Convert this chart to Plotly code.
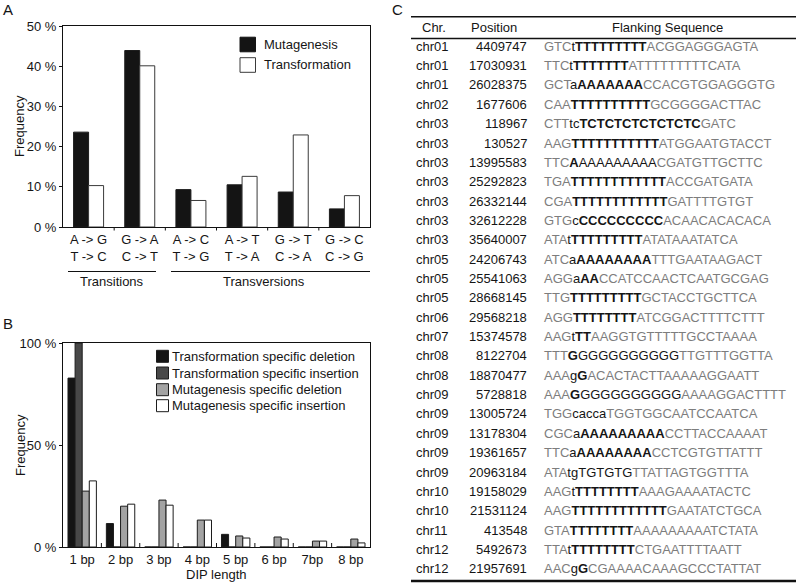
import re
import plotly.graph_objects as go

W, H = 796, 584
FONT = "Liberation Sans, Arial, Helvetica, sans-serif"
INK = "#151515"
GRAY = "#7d7d7d"

# ---------------- Panel A data ----------------
sub_labels = ["A -> G<br>T -> C", "G -> A<br>C -> T", "A -> C<br>T -> G",
              "A -> T<br>T -> A", "G -> T<br>C -> A", "G -> C<br>C -> G"]
mutagenesis = [23.6, 43.9, 9.3, 10.5, 8.7, 4.5]
transformation = [10.3, 40.1, 6.6, 12.6, 22.9, 7.8]
a_ticks = [0, 10, 20, 30, 40, 50]

# ---------------- Panel B data ----------------
dip_labels = ["1 bp", "2 bp", "3 bp", "4 bp", "5 bp", "6 bp", "7bp", "8 bp"]
trans_del = [82.8, 11.5, 0, 0, 6.2, 0, 0, 0]
trans_ins = [100, 0, 0, 0, 0, 0, 0, 0]
mut_del = [27.4, 20.0, 23.0, 13.2, 5.4, 4.9, 2.9, 3.9]
mut_ins = [32.4, 21.0, 20.5, 13.2, 4.4, 3.9, 2.9, 2.0]
b_ticks = [0, 50, 100]

# ---------------- Panel C data ----------------
chroms = ["chr01", "chr01", "chr01", "chr02", "chr03", "chr03", "chr03", "chr03",
          "chr03", "chr03", "chr03", "chr05", "chr05", "chr05", "chr06", "chr07",
          "chr08", "chr08", "chr09", "chr09", "chr09", "chr09", "chr09", "chr10",
          "chr10", "chr11", "chr12", "chr12"]
positions = ["4409747", "17030931", "26028375", "1677606", "118967", "130527",
             "13995583", "25292823", "26332144", "32612228", "35640007", "24206743",
             "25541063", "28668145", "29568218", "15374578", "8122704", "18870477",
             "5728818", "13005724", "13178304", "19361657", "20963184", "19158029",
             "21531124", "413548", "5492673", "21957691"]
# [..] = black regular, {..} = black bold, rest = grey flank
sequences = [
    "GTC[t]{TTTTTTTTT}ACGGAGGGAGTA",
    "TTC[t]{TTTTTTT}ATTTTTTTTTCATA",
    "GCT[a]{AAAAAAA}CCACGTGGAGGGTG",
    "CAA{TTTTTTTTTT}GCGGGGACTTAC",
    "CTT[tc]{TCTCTCTCTCTCTC}GATC",
    "AAG{TTTTTTTTTTT}ATGGAATGTACCT",
    "TTC{A}[AAAAAAAAA]CGATGTTGCTTC",
    "TGA{TTTTTTTTTTTT}ACCGATGATA",
    "CGA{TTTTTTTTTTTT}GATTTTGTGT",
    "GTG[c]{CCCCCCCCC}ACAACACACACA",
    "ATA[t]{TTTTTTTTT}ATATAAATATCA",
    "ATC[a]{AAAAAAAA}TTTGAATAAGACT",
    "AGG[a]{AA}CCATCCAACTCAATGCGAG",
    "TTG{TTTTTTTTT}GCTACCTGCTTCA",
    "AGG{TTTTTTTT}ATCGGACTTTTCTTT",
    "AAG[t]{TT}AAGGTGTTTTTGCCTAAAA",
    "TTT{G}[GGGGGGGGGG]TTGTTTGGTTA",
    "AAA[g]{G}ACACTACTTAAAAAGGAATT",
    "AAA{G}[GGGGGGGGGG]AAAAGGACTTTT",
    "TGG[cacca]TGGTGGCAATCCAATCA",
    "CGC[a]{AAAAAAAAA}CCTTACCAAAAT",
    "TTC[a]{AAAAAAAA}CCTCGTGTTATTT",
    "ATA[tgTGTGTG]TTATTAGTGGTTTA",
    "AAG[t]{TTTTTTTT}AAAGAAAATACTC",
    "AAG{TTTTTTTTTTTT}GAATATCTGCA",
    "GTA{TTTTTTTT}AAAAAAAAATCTATA",
    "TTA[t]{TTTTTTTT}CTGAATTTTAATT",
    "AAC[g]{G}CGAAAACAAAGCCCTATTAT",
]
table_headers = ["Chr.", "Position", "Flanking Sequence"]


def X(px):
    return px / W


def Y(py):
    return 1 - py / H


def markup(seq):
    out = []
    for reg, bold, plain in re.findall(r"\[([^\]]*)\]|\{([^}]*)\}|([^\[\{]+)", seq):
        if reg:
            out.append(f'<span style="color:{INK}">{reg}</span>')
        elif bold:
            out.append(f'<span style="color:{INK}"><b>{bold}</b></span>')
        else:
            out.append(plain)
    return "".join(out)


def note(text, px, py, xa="center", ya="middle", size=13, color=INK, angle=0):
    return dict(text=text, x=X(px), y=Y(py), xref="paper", yref="paper",
                showarrow=False, xanchor=xa, yanchor=ya, textangle=angle,
                borderpad=0, font=dict(family=FONT, size=size, color=color))


fig = go.Figure()

line = dict(color="#1c1c1c", width=1)
# Panel A bars
wA = 0.293
fig.add_bar(x=list(range(6)), y=mutagenesis, name="Mutagenesis", width=wA, offset=-wA,
            marker=dict(color="#141414", line=line), xaxis="x", yaxis="y", showlegend=False)
fig.add_bar(x=list(range(6)), y=transformation, name="Transformation", width=wA, offset=0,
            marker=dict(color="#ffffff", line=dict(color="#3a3a3a", width=1)),
            xaxis="x", yaxis="y", showlegend=False)

# Panel B bars
wB = 0.185
b_series = [("Transformation specific deletion", trans_del, "#141414"),
            ("Transformation specific insertion", trans_ins, "#484848"),
            ("Mutagenesis specific deletion", mut_del, "#a3a3a3"),
            ("Mutagenesis specific insertion", mut_ins, "#ffffff")]
for i, (nm, vals, col) in enumerate(b_series):
    fig.add_bar(x=list(range(8)), y=vals, name=nm, width=wB, offset=-2 * wB + i * wB,
                marker=dict(color=col, line=line), xaxis="x2", yaxis="y2", showlegend=False)

axis_common = dict(showline=True, mirror=True, linecolor="#111", linewidth=1,
                   showgrid=False, zeroline=False, automargin=False,
                   tickfont=dict(family=FONT, size=13, color=INK))

fig.update_layout(
    template="none",
    width=W, height=H, margin=dict(l=0, r=0, t=0, b=0, pad=0, autoexpand=False),
    paper_bgcolor="white", plot_bgcolor="white",
    barmode="overlay", showlegend=False,
    font=dict(family=FONT, size=13, color=INK),
    xaxis=dict(domain=[X(63), X(370)], range=[-0.5, 5.5], tickmode="array",
               tickvals=list(range(6)), ticktext=sub_labels, ticks="", anchor="y",
               **axis_common),
    yaxis=dict(domain=[Y(227), Y(26)], range=[0, 50], tickmode="array",
               tickvals=a_ticks, ticktext=[f"{v} %" for v in a_ticks], ticks="outside",
               ticklen=3, tickcolor="#111", anchor="x", **axis_common),
    xaxis2=dict(domain=[X(63), X(370)], range=[-0.5, 7.5], tickmode="array",
                tickvals=list(range(8)), ticktext=dip_labels, ticks="", anchor="y2",
                **axis_common),
    yaxis2=dict(domain=[Y(547), Y(343)], range=[0, 100], tickmode="array",
                tickvals=b_ticks, ticktext=[f"{v} %" for v in b_ticks], ticks="outside",
                ticklen=3, tickcolor="#111", anchor="x2", **axis_common),
)

shapes = []
ann = []

# Category boundary ticks
for k in range(5):
    shapes.append(dict(type="line", xref="x", yref="paper", x0=k + 0.5, x1=k + 0.5,
                       y0=Y(227), y1=Y(230.5), line=dict(color="#111", width=1)))
for k in range(7):
    shapes.append(dict(type="line", xref="x2", yref="paper", x0=k + 0.5, x1=k + 0.5,
                       y0=Y(547), y1=Y(543), line=dict(color="#111", width=1)))

# Transitions / Transversions brackets
shapes.append(dict(type="line", xref="paper", yref="paper", x0=X(68), x1=X(156),
                   y0=Y(271.5), y1=Y(271.5), line=dict(color="#111", width=1)))
shapes.append(dict(type="line", xref="paper", yref="paper", x0=X(171), x1=X(370),
                   y0=Y(271.5), y1=Y(271.5), line=dict(color="#111", width=1)))
ann.append(note("Transitions", 112, 281.5))
ann.append(note("Transversions", 264, 281.5))

# Axis titles
ann.append(note("Frequency", 20, 126, angle=-90))
ann.append(note("Frequency", 20, 445, angle=-90))
ann.append(note("DIP length", 216, 574))

# Panel letters
for letter, px, py in [("A", 8, 10), ("B", 8, 323), ("C", 397, 10)]:
    ann.append(note(letter, px, py, size=15))

# Legend A
legA = [("Mutagenesis", "#141414", "#141414", 44.5), ("Transformation", "#ffffff", "#3a3a3a", 65)]
for name, fill, lc, cy in legA:
    shapes.append(dict(type="rect", xref="paper", yref="paper", x0=X(240), x1=X(255.5),
                       y0=Y(cy - 7.3), y1=Y(cy + 7.3), fillcolor=fill,
                       line=dict(color=lc, width=1)))
    ann.append(note(name, 263, cy, xa="left"))

# Legend B
for (name, vals, col), cy in zip(b_series, [356.3, 373, 389.7, 405.7]):
    shapes.append(dict(type="rect", xref="paper", yref="paper", x0=X(156.5), x1=X(168.5),
                       y0=Y(cy - 6), y1=Y(cy + 6), fillcolor=col,
                       line=dict(color="#1c1c1c", width=1)))
    ann.append(note(name, 171, cy, xa="left"))

# Table
shapes.append(dict(type="line", xref="paper", yref="paper", x0=X(411), x1=1,
                   y0=Y(16.7), y1=Y(16.7), line=dict(color="#111", width=1.6)))
shapes.append(dict(type="line", xref="paper", yref="paper", x0=X(411), x1=1,
                   y0=Y(38.5), y1=Y(38.5), line=dict(color="#111", width=1.6)))
shapes.append(dict(type="line", xref="paper", yref="paper", x0=X(411), x1=1,
                   y0=Y(581), y1=Y(581), line=dict(color="#111", width=2.4)))
for txt, px in zip(table_headers, [434, 494.5, 667]):
    ann.append(note(txt, px, 28))

for i, (c, p, s) in enumerate(zip(chroms, positions, sequences)):
    cy = 46.3 + 19.35 * i
    ann.append(note(c, 415, cy, xa="left"))
    ann.append(note(p, 528, cy, xa="right"))
    ann.append(note(markup(s), 543, cy, xa="left", color=GRAY))

fig.update_layout(shapes=shapes, annotations=ann)
fig.write_html("out.html", config={"displayModeBar": False},
               post_script="document.body.style.margin='0';document.body.style.padding='0';")
